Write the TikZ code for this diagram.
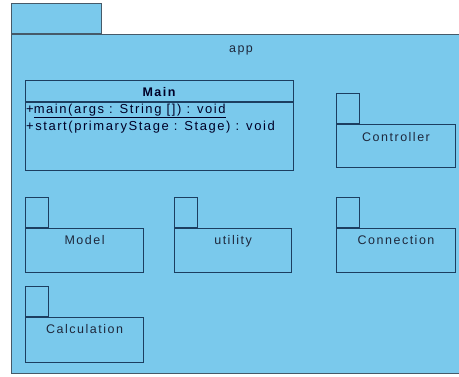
\documentclass[tikz,border=0pt]{standalone}
\usepackage{fontspec}
\setmainfont{Liberation Sans}[LetterSpace=12]
\definecolor{pkgfill}{RGB}{122,201,236}
\definecolor{pkgline}{RGB}{28,62,96}
\definecolor{outline}{RGB}{70,90,105}
\definecolor{txt}{RGB}{30,40,60}
\tikzset{
  pbody/.style={draw=pkgline, line width=1.1pt, fill=pkgfill, anchor=north west, inner sep=0pt},
  ptab/.style={draw=pkgline, line width=1.1pt, fill=pkgfill, anchor=south west, inner sep=0pt, minimum width=23pt, minimum height=30pt},
  plabel/.style={text=txt, font=\fontsize{12.5}{14}\selectfont, anchor=base, inner sep=0pt},
  mlabel/.style={text=black!85!blue, font=\fontsize{13}{15}\selectfont, anchor=base west, inner sep=0pt},
}
\begin{document}
\begin{tikzpicture}[x=1pt,y=-1pt]
\useasboundingbox (0,0) rectangle (459,376);
\fill[white] (0,0) rectangle (459,376);
% outer package
\node[draw=outline, line width=1.2pt, fill=pkgfill, anchor=south west, inner sep=0pt, minimum width=90pt, minimum height=30pt] (apptab) at (11,34) {};
\node[draw=outline, line width=1.2pt, fill=pkgfill, anchor=north west, inner sep=0pt, minimum width=452pt, minimum height=339pt] (app) at (11,34) {};
\node[plabel] (applabel) at (241,52) {app};
% Main class
\node[pbody, minimum width=268pt, minimum height=90pt] (main) at (25,80) {};
\draw[pkgline, line width=1.1pt] (main.west |- 0,102) coordinate (h1) -- (main.east |- 0,102) coordinate (h2);
\node[plabel, text=black!85!blue, font=\fontsize{12.5}{14}\selectfont\bfseries] (mainname) at (159,96) {Main};
\node[mlabel] (m1) at (26,113) {+\underline{main(args : String []) : void}};
\node[mlabel] (m2) at (26,130) {+start(primaryStage : Stage) : void};
% Controller
\node[pbody, minimum width=119pt, minimum height=43pt] (controller) at (336,124) {};
\node[ptab] (controllertab) at (controller.north west) {};
\node[plabel] (controllerlabel) at ([yshift=-17pt]controller.north) {Controller};
% Model
\node[pbody, minimum width=118pt, minimum height=44pt] (model) at (25,228) {};
\node[ptab] (modeltab) at (model.north west) {};
\node[plabel] (modellabel) at ([yshift=-16pt]model.north) {Model};
% utility
\node[pbody, minimum width=117pt, minimum height=44pt] (utility) at (174,228) {};
\node[ptab] (utilitytab) at (utility.north west) {};
\node[plabel] (utilitylabel) at ([yshift=-16pt]utility.north) {utility};
% Connection
\node[pbody, minimum width=119pt, minimum height=44pt] (connection) at (336,228) {};
\node[ptab] (connectiontab) at (connection.north west) {};
\node[plabel] (connectionlabel) at ([yshift=-16pt]connection.north) {Connection};
% Calculation
\node[pbody, minimum width=118pt, minimum height=45pt] (calculation) at (25,317) {};
\node[ptab] (calculationtab) at (calculation.north west) {};
\node[plabel] (calculationlabel) at ([yshift=-16pt]calculation.north) {Calculation};
\end{tikzpicture}
\end{document}
